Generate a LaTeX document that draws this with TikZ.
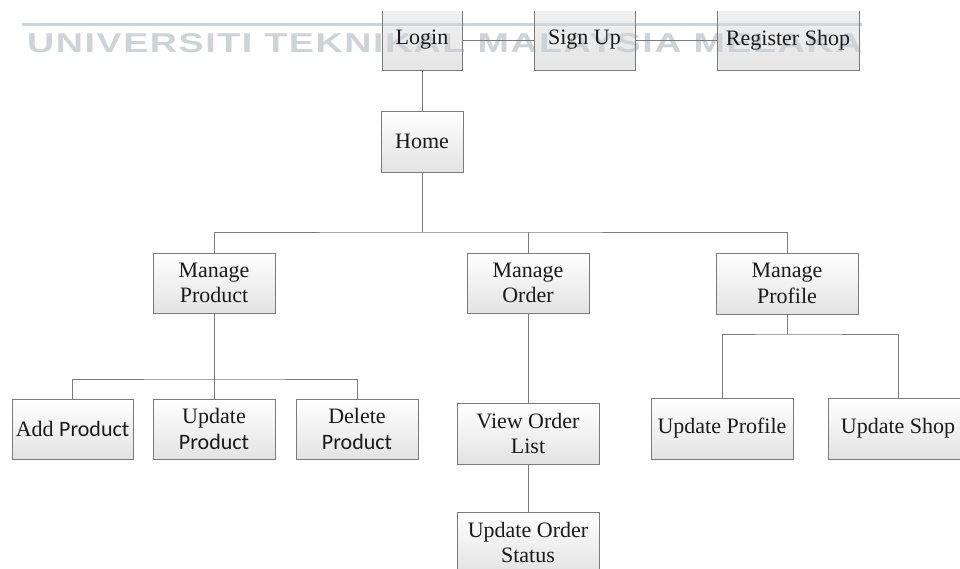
\documentclass[tikz,border=0pt]{standalone}
\usepackage{fontspec}
\setmainfont{Liberation Serif}
\newfontfamily\sansprod{Carlito}
\newfontfamily\wmfont[LetterSpace=4]{Liberation Sans}
\usetikzlibrary{shadows}
\definecolor{edge}{HTML}{7A7A7A}
\definecolor{txt}{HTML}{1A1A1A}
\definecolor{wm}{HTML}{CDD3D7}
\definecolor{boxbot}{HTML}{E3E3E3}
\begin{document}
\begin{tikzpicture}[x=1pt,y=-1pt,
  box/.style={draw=edge, line width=0.9pt, top color=white, bottom color=boxbot,
    text=txt, inner sep=0pt, align=center,
    font=\fontsize{22}{25.5}\selectfont,
    drop shadow={shadow xshift=1.2pt, shadow yshift=-1.2pt, opacity=0.18}},
  topbox/.style={box, fill opacity=0.35, text opacity=1, draw opacity=1},
  link/.style={draw=edge, line width=0.9pt}]
\useasboundingbox (0,0) rectangle (960,568);
\fill[white] (0,0) rectangle (960,568);

% watermark (behind the diagram)
\fill[wm] (22,22.5) rectangle (862,26);
\node[anchor=base west, inner sep=0pt, text=wm] (wmtext) at (27,52)
  {\resizebox{835pt}{19pt}{\wmfont\bfseries UNIVERSITI TEKNIKAL MALAYSIA MELAKA}};

% top row (clipped at its top edge)
\begin{scope}
\clip (0,11) rectangle (960,568);
\node[topbox, minimum width=80pt, minimum height=60pt] (login) at (422,40) {Login};
\node[topbox, minimum width=101pt, minimum height=60pt] (signup) at (584.5,40) {Sign Up};
\node[topbox, minimum width=142pt, minimum height=60pt] (regshop) at (788,40) {Register Shop};
\end{scope}

\node[box, minimum width=82pt, minimum height=61pt] (home) at (422,141.5) {Home};

\node[box, minimum width=122pt, minimum height=60pt] (mprod) at (214,283) {Manage\\Product};
\node[box, minimum width=122pt, minimum height=60pt] (morder) at (528,283) {Manage\\Order};
\node[box, minimum width=142pt, minimum height=61pt] (mprof) at (787,283.5) {Manage\\Profile};

\node[box, minimum width=121pt, minimum height=60pt] (addp) at (72.5,429) {Add {\sansprod Product}};
\node[box, minimum width=122pt, minimum height=60pt] (updp) at (214,429) {Update\\{\sansprod Product}};
\node[box, minimum width=122pt, minimum height=60pt] (delp) at (357,429) {Delete\\{\sansprod Product}};

\node[box, minimum width=142pt, minimum height=61pt] (vol) at (528,433.5) {View Order\\List};
\node[box, minimum width=142pt, minimum height=61pt] (uos) at (528,542.5) {Update Order\\Status};

\node[box, minimum width=142pt, minimum height=61pt] (uprof) at (722,428.5) {Update Profile};
\node[box, minimum width=140pt, minimum height=61pt] (ushop) at (898,428.5) {Update Shop};

% connectors
\coordinate (bus1) at (422,232);
\coordinate (bus2) at (214,379);
\coordinate (bus3) at (787,334);

\path[link] (login.east) -- (signup.west);
\path[link] (signup.east) -- (regshop.west);
\path[link] (login.south) -- (home.north);
\path[link] (home.south) -- (bus1);
\path[link] (mprod.north) |- (bus1) -| (mprof.north);
\path[link] (morder.north) -- (morder.north |- bus1);

\path[link] (mprod.south) -- (updp.north);
\path[link] (addp.north) |- (bus2) -| (delp.north);

\path[link] (morder.south) -- (vol.north);
\path[link] (vol.south) -- (uos.north);

\path[link] (mprof.south) -- (bus3);
\path[link] (uprof.north) |- (bus3) -| (ushop.north);
\end{tikzpicture}
\end{document}
